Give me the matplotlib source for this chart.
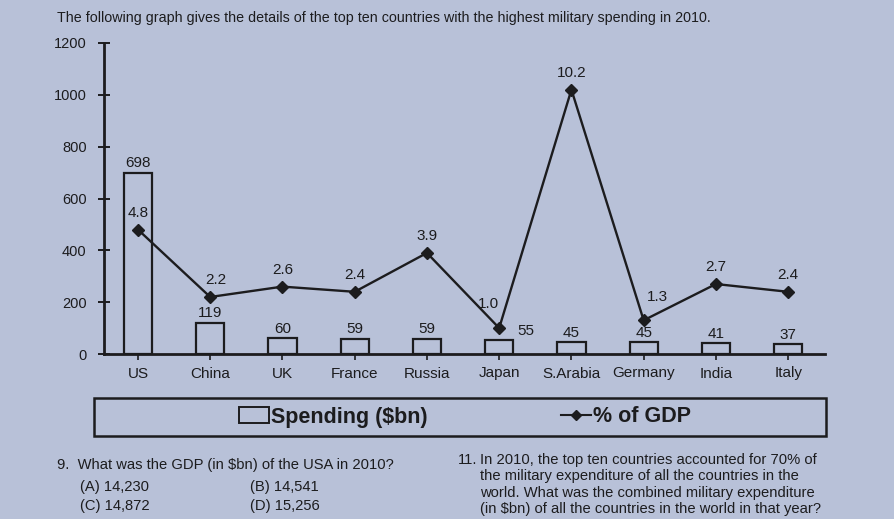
import matplotlib.pyplot as plt
import numpy as np
from matplotlib.patches import Rectangle

plt.rcParams['font.family'] = ['Liberation Sans', 'DejaVu Sans']

# Data
countries = ['US', 'China', 'UK', 'France', 'Russia', 'Japan',
             'S.Arabia', 'Germany', 'India', 'Italy']
spending = [698, 119, 60, 59, 59, 55, 45, 45, 41, 37]
pct_gdp = [4.8, 2.2, 2.6, 2.4, 3.9, 1.0, 10.2, 1.3, 2.7, 2.4]
y_ticks = [0, 200, 400, 600, 800, 1000, 1200]

paper = '#b8c1d8'
ink = '#1c1c1e'

fig = plt.figure(figsize=(8.95, 5.19), dpi=100, facecolor=paper)
ax = fig.add_axes([104 / 895, 1 - 354 / 519, 721 / 895, 311 / 519])
ax.set_facecolor('none')

x = np.arange(len(countries))
ax.bar(x, spending, width=0.39, facecolor='none', edgecolor=ink, linewidth=1.6)
ax.set_xlim(-0.47, 9.51)
ax.set_ylim(0, 1200)
ax.set_yticks(y_ticks)
ax.set_yticklabels([str(t) for t in y_ticks], fontsize=10.5, color=ink)
ax.set_xticks(x)
ax.set_xticklabels(countries, fontsize=11, color=ink)
ax.tick_params(axis='y', direction='inout', length=9, width=1.4, pad=8, colors=ink)
ax.tick_params(axis='x', direction='out', length=4, width=1.2, pad=5, colors=ink)
for s in ['top', 'right']:
    ax.spines[s].set_visible(False)
for s in ['left', 'bottom']:
    ax.spines[s].set_linewidth(2)
    ax.spines[s].set_color(ink)

# bar value labels
for i, v in enumerate(spending):
    if countries[i] == 'Japan':
        ax.annotate(str(v), (i + 0.2, v), xytext=(3, 1), textcoords='offset points',
                    ha='left', va='bottom', fontsize=11, color=ink)
    else:
        ax.annotate(str(v), (i, v), xytext=(0, 2), textcoords='offset points',
                    ha='center', va='bottom', fontsize=11, color=ink)

# % of GDP on a hidden second axis
ax2 = ax.twinx()
ax2.set_ylim(0, 12)
ax2.axis('off')
ax2.plot(x, pct_gdp, color=ink, linewidth=1.7, marker='D', markersize=6)
offsets = {'Japan': (-8, 12), 'Germany': (10, 12), 'China': (4, 7)}
for i, v in enumerate(pct_gdp):
    dx, dy = offsets.get(countries[i], (0, 7))
    ax2.annotate(f'{v}', (i, v), xytext=(dx, dy), textcoords='offset points',
                 ha='center', va='bottom', fontsize=11, color=ink)

# heading
fig.text(57 / 895, 1 - 18 / 519, 'The following graph gives the details of the top ten '
         'countries with the highest military spending in 2010.',
         fontsize=10.3, color=ink, va='center', ha='left')

# legend box
fig.patches.append(Rectangle((94 / 895, 1 - 436 / 519), 732 / 895, 38 / 519,
                             transform=fig.transFigure, facecolor='none',
                             edgecolor=ink, linewidth=1.8))
h1 = Rectangle((0, 0), 1, 1, facecolor='none', edgecolor=ink, linewidth=1.4)
h2, = ax.plot([], [], color=ink, marker='D', markersize=5, linewidth=1.5)
fig.legend([h1, h2], ['Spending ($bn)', '% of GDP'], loc='center',
           bbox_to_anchor=(465 / 895, 1 - 417 / 519), ncol=2, frameon=False,
           prop={'size': 15.5, 'weight': 'bold'}, columnspacing=6.2,
           handlelength=1.4, handletextpad=0.1, labelcolor=ink)

# questions below the chart
qfont = {'size': 10.6, 'color': ink}
fig.text(57 / 895, 1 - 465 / 519, '9.  What was the GDP (in $bn) of the USA in 2010?',
         va='center', **qfont)
fig.text(80 / 895, 1 - 487 / 519, '(A) 14,230', va='center', **qfont)
fig.text(250 / 895, 1 - 487 / 519, '(B) 14,541', va='center', **qfont)
fig.text(80 / 895, 1 - 506 / 519, '(C) 14,872', va='center', **qfont)
fig.text(250 / 895, 1 - 506 / 519, '(D) 15,256', va='center', **qfont)

q11 = ['In 2010, the top ten countries accounted for 70% of',
       'the military expenditure of all the countries in the',
       'world. What was the combined military expenditure',
       '(in $bn) of all the countries in the world in that year?']
fig.text(458 / 895, 1 - 460 / 519, '11.', va='center', **qfont)
for k, line in enumerate(q11):
    fig.text(480 / 895, 1 - (460 + 16.3 * k) / 519, line, va='center', **qfont)

fig.savefig('out.png', dpi=100, facecolor=paper)
